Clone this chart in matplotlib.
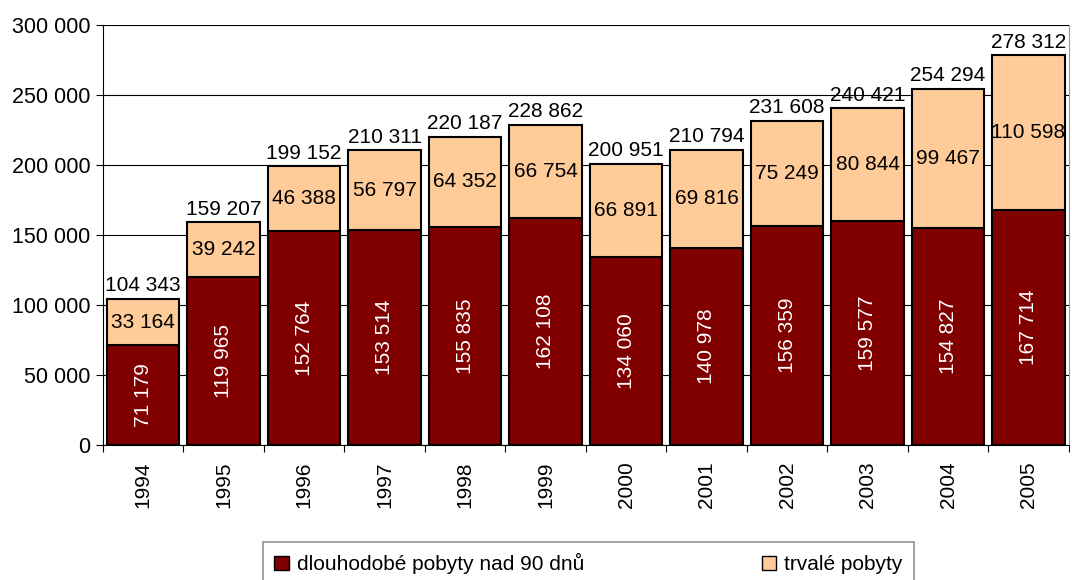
import numpy as np
import matplotlib.pyplot as plt
from matplotlib.patches import Patch

years = ['1994', '1995', '1996', '1997', '1998', '1999', '2000', '2001', '2002', '2003', '2004', '2005']
long_term = [71179, 119965, 152764, 153514, 155835, 162108, 134060, 140978, 156359, 159577, 154827, 167714]
permanent = [33164, 39242, 46388, 56797, 64352, 66754, 66891, 69816, 75249, 80844, 99467, 110598]

plt.rcParams['font.family'] = ['Liberation Sans', 'DejaVu Sans']

def fmt(v):
    return '{:,}'.format(int(v)).replace(',', ' ')

dark = '#800000'
light = '#FFCC99'

fig = plt.figure(figsize=(10.72, 5.80), dpi=100)
ax = fig.add_axes([0.096, 0.233, 0.901, 0.724])

x = np.arange(len(years))
long_term = np.array(long_term)
permanent = np.array(permanent)
total = long_term + permanent

ax.bar(x, long_term, width=0.9, color=dark, edgecolor='black', linewidth=1.5, zorder=3)
ax.bar(x, permanent, width=0.9, bottom=long_term, color=light, edgecolor='black', linewidth=1.5, zorder=3)

for i in range(len(years)):
    ax.text(x[i], long_term[i] / 2, fmt(long_term[i]), rotation=90, color='white',
            ha='center', va='center', fontsize=15, zorder=4)
    ax.text(x[i], long_term[i] + permanent[i] / 2, fmt(permanent[i]), color='black',
            ha='center', va='center', fontsize=15, zorder=4)
    ax.text(x[i], total[i] + 2500, fmt(total[i]), color='black',
            ha='center', va='bottom', fontsize=15, zorder=4)

ax.set_xlim(-0.5, len(years) - 0.5)
ax.set_ylim(0, 300000)
ax.set_yticks(np.arange(0, 300001, 50000))
ax.set_yticklabels([fmt(v) for v in np.arange(0, 300001, 50000)], fontsize=15.5)
ax.set_xticks(np.arange(len(years) + 1) - 0.5, minor=False)
ax.set_xticklabels([])
ax.set_xticks(x, minor=True)
ax.set_xticklabels(years, minor=True, rotation=90, fontsize=15)
ax.tick_params(axis='x', which='minor', length=0, pad=12)
ax.tick_params(axis='x', which='major', length=5, color='black')
ax.tick_params(axis='y', length=5, color='black', pad=4)
ax.grid(axis='y', color='black', linewidth=0.8, zorder=0)

ax.spines['top'].set_visible(False)
ax.spines['right'].set_color('#999999')
ax.spines['left'].set_color('black')
ax.spines['bottom'].set_color('black')

handles = [Patch(facecolor=dark, edgecolor='black', label='dlouhodobé pobyty nad 90 dnů'),
           Patch(facecolor=light, edgecolor='black', label='trvalé pobyty')]
leg = fig.legend(handles=handles, loc='upper center', bbox_to_anchor=(0.549, 0.066), ncol=2,
                 fontsize=15, frameon=True, fancybox=False, edgecolor='#777777',
                 columnspacing=8.5, handlelength=0.7, handleheight=0.7, handletextpad=0.4,
                 borderpad=0.55, borderaxespad=0)
leg.get_frame().set_linewidth(1.2)

fig.savefig('out.png', dpi=100)
